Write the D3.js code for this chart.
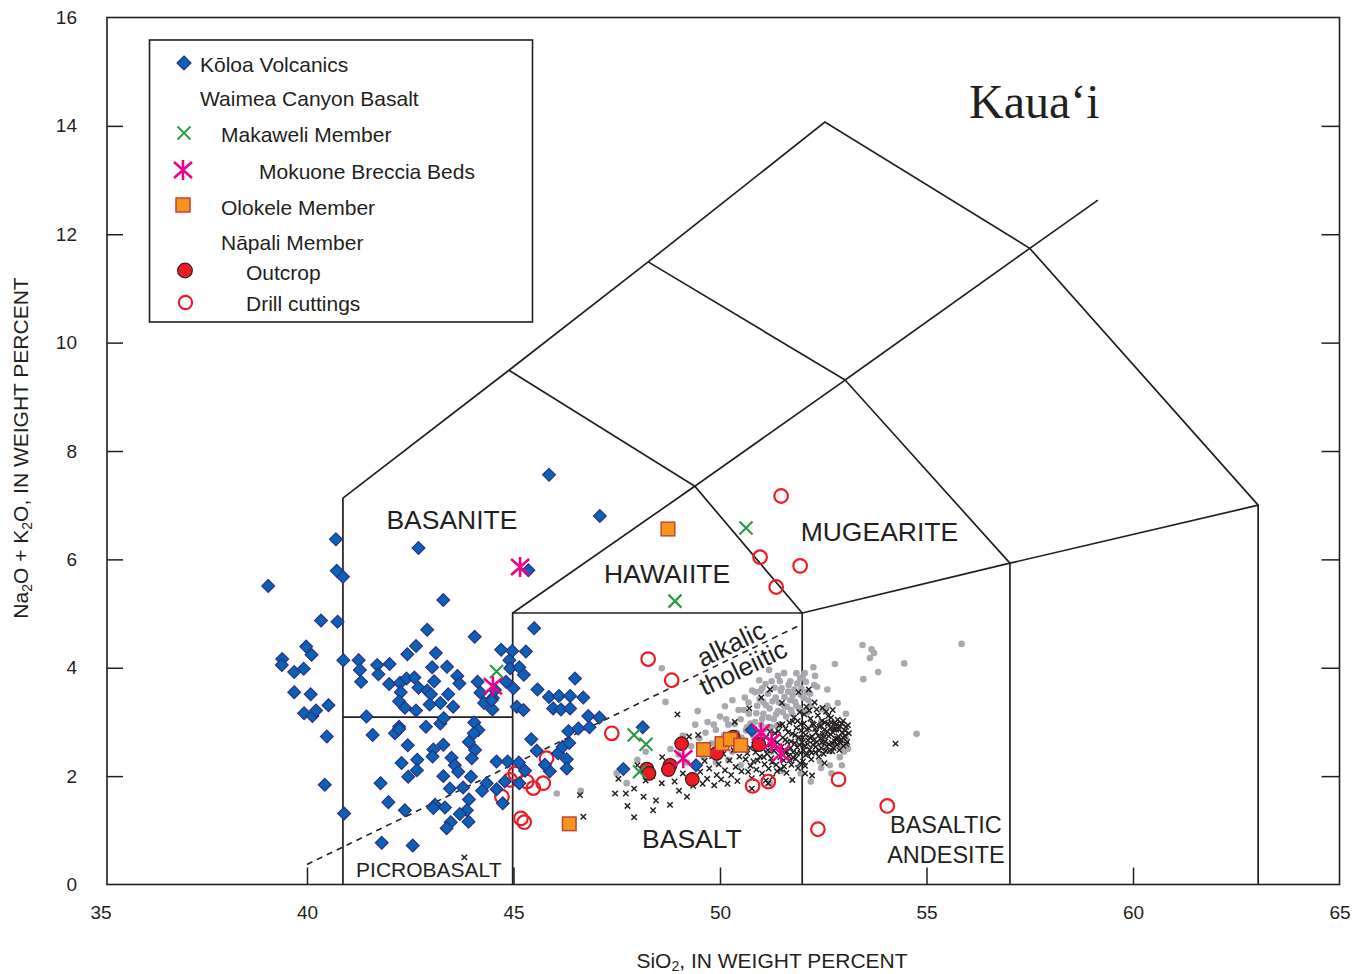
<!DOCTYPE html>
<html>
<head>
<meta charset="utf-8">
<script src="https://cdn.jsdelivr.net/npm/d3@7"></script>
<style>
  body { margin: 0; background: #fff; }
  svg text { font-family: "Liberation Sans", Arial, sans-serif; fill: #231f20; }
</style>
</head>
<body>
<svg id="chart" width="1364" height="974"></svg>
<script>
// ---- Data: SiO2 (wt %) vs Na2O + K2O (wt %) ----
const xTicks = [35, 40, 45, 50, 55, 60, 65];
const yTicks = [0, 2, 4, 6, 8, 10, 12, 14, 16];

// Kōloa Volcanics
const koloa = [
  [39.06,5.51],[40.34,4.87],[40.74,4.85],[40.88,4.14],[40.87,5.68],[40.72,5.79],[39.98,4.39],[40.11,4.24],
  [39.40,4.16],[39.39,4.05],[39.69,3.92],[39.92,3.98],[39.69,3.55],[40.09,3.51],[40.52,3.31],[39.93,3.16],
  [40.13,3.11],[40.22,3.21],[41.25,4.14],[41.28,3.96],[41.31,3.74],[41.70,4.05],[41.73,3.88],[42.00,4.07],
  [41.99,3.70],[42.25,3.72],[42.41,3.80],[42.27,3.55],[42.23,3.38],[42.37,3.26],[42.64,3.21],[42.43,4.25],
  [42.64,4.40],[42.91,4.70],[43.30,5.25],[43.12,4.27],[43.03,4.01],[43.39,4.02],[43.64,3.85],[43.69,3.71],
  [43.08,3.75],[42.60,3.82],[42.70,3.63],[42.91,3.58],[43.00,3.51],[43.42,3.51],[43.23,3.35],[42.97,3.32],
  [43.54,3.28],[44.06,4.57],[44.70,4.33],[44.13,3.74],[44.20,3.54],[44.29,3.35],[44.49,3.23],[41.44,3.10],
  [42.23,2.91],[42.88,2.91],[43.23,2.97],[43.31,3.07],[44.05,2.99],[44.50,3.44],
  [40.70,6.37],[42.70,6.21],[45.36,5.80],[45.86,7.56],[47.09,6.80],[45.50,4.73],
  [45.08,3.28],[45.24,3.22],[40.48,2.73],[41.59,2.76],[42.13,2.79],[42.23,2.87],[44.15,2.85],[44.04,2.79],
  [43.92,2.63],[42.44,2.57],[43.30,2.58],[43.06,2.49],[43.04,2.36],[44.07,2.48],[43.99,2.33],[43.50,2.34],
  [42.29,2.24],[42.67,2.30],[42.66,2.11],[43.58,2.20],[43.66,2.08],[43.97,1.99],[44.59,2.27],[44.86,2.27],
  [45.13,2.25],[45.43,2.68],[45.56,2.47],[46.08,2.42],[46.19,2.54],[46.35,2.61],[46.29,2.31],[46.29,2.14],
  [45.88,2.09],[46.33,2.83],[46.57,2.88],[46.84,2.90],[46.81,3.11],[47.08,3.08],[42.45,1.99],[41.78,1.87],
  [43.30,2.00],[43.46,1.77],[43.78,1.79],[44.35,1.87],[44.24,1.73],[44.79,1.90],[44.59,1.76],[45.14,1.87],
  [45.28,2.10],[41.97,1.52],[42.37,1.37],[43.10,1.47],[43.34,1.42],[43.06,1.41],[43.92,1.57],[43.87,1.37],
  [43.70,1.30],[43.91,1.16],[43.48,1.15],[43.38,1.04],[44.74,1.50],[40.90,1.31],[40.43,1.84],[41.81,0.77],
  [42.56,0.72],
  [44.97,4.31],[45.30,4.30],[44.90,4.14],[44.92,3.99],[45.14,4.01],[45.25,3.87],[46.49,3.80],[44.82,3.74],
  [45.00,3.62],[45.58,3.60],[45.86,3.46],[46.10,3.48],[46.37,3.48],[46.69,3.45],[45.96,3.25],[46.15,3.23],
  [46.37,3.25],[44.55,3.59],[44.47,3.40],[45.76,2.21],[48.13,2.90],[47.66,2.13],[49.42,2.20],[50.77,2.85]
];

// Waimea Canyon Basalt members
const makaweli = [[50.63,6.58],[48.91,5.23],[44.59,3.93],[47.92,2.76],[48.21,2.59],[48.05,2.08]];
const mokuone  = [[45.16,5.86],[44.50,3.66],[49.11,2.33],[50.99,2.80],[51.25,2.64],[51.48,2.42]];
const olokele  = [[48.74,6.56],[46.35,1.12],[49.60,2.49],[50.05,2.60],[50.25,2.68],[50.50,2.57]];
const napaliOutcrop = [[49.07,2.60],[48.23,2.13],[48.28,2.05],[48.79,2.20],[48.75,2.12],[49.33,1.94],
  [49.92,2.42],[50.32,2.72],[50.94,2.58]];
const napaliDrill = [[51.48,7.17],[50.97,6.04],[51.36,5.49],[51.94,5.88],[48.26,4.16],[48.83,3.77],
  [47.38,2.79],[50.79,1.82],[51.17,1.90],[52.87,1.94],[54.05,1.45],[52.37,1.02],[45.80,2.33],[45.72,1.87],
  [45.48,1.78],[45.32,1.90],[45.04,2.05],[44.92,1.93],[44.72,1.62],[45.18,1.22],[45.26,1.15]];

// Comparison analyses (grey dots)
const greyDots = [
  [48.59,3.99],[48.68,3.37],[49.46,3.20],[50.12,3.29],[47.74,1.87],[46.05,1.68],[46.63,1.73],[53.45,4.42],
  [53.67,4.34],[53.73,4.27],[53.63,4.18],[52.78,4.07],[52.26,4.01],[53.83,3.92],[53.47,3.79],[54.46,4.08],
  [55.85,4.44],[54.76,2.78],[52.28,3.68],[52.14,3.40],[52.50,3.23],[51.94,3.80],[52.00,3.83],[51.45,3.75],
  [50.95,3.77],[51.19,3.96],[50.98,3.57],[51.05,3.37],[51.49,3.62],[51.65,3.56],[52.66,2.20],[52.95,2.52],
  [52.42,2.27],[51.21,1.87],
  [49.30,2.55],[49.50,2.70],[49.60,2.35],[49.80,2.60],[49.90,2.85],[50.00,2.50],[50.10,2.75],[50.20,2.95],
  [50.30,2.45],[50.40,2.80],[50.50,3.05],[50.55,2.60],[50.65,2.90],[50.70,3.15],[50.80,2.75],[50.85,3.00],
  [50.90,3.30],[51.00,2.95],[51.05,3.15],[51.15,2.90],[51.20,3.25],[51.30,3.05],[51.35,3.45],[51.40,3.20],
  [51.45,2.95],[51.55,3.30],[51.60,3.10],[51.70,3.40],[51.75,3.15],[51.80,3.60],[51.85,3.30],[51.95,3.50],
  [52.00,3.20],[52.10,3.55],[52.20,3.30],[49.00,2.40],[48.80,2.50],[49.20,2.25],[50.30,3.40],[50.60,3.45],
  [50.00,3.10],[49.70,3.00],[52.35,3.65],[52.45,3.00],[52.60,3.30],[52.80,2.90],[53.00,2.45],[53.05,2.70],
  [52.90,2.35],[51.10,3.70],[51.40,3.85],[51.70,3.75],[50.50,2.20],[50.20,2.30],[49.90,2.25],[51.50,2.10],
  [52.20,1.90],[52.70,2.05],[48.00,2.30],[47.50,2.05],[48.20,2.45],[49.40,2.95],[50.85,3.55],[51.90,2.70],
  [52.50,2.60],[50.40,2.50],[49.10,2.75],[51.25,2.45],
  [50.52,2.71],[50.58,3.22],[50.63,2.84],[50.69,3.36],[50.74,2.97],[50.78,3.58],[50.83,2.88],[50.88,3.16],
  [50.93,2.79],[50.96,3.42],[51.02,3.06],[51.07,2.86],[51.11,3.31],[51.16,3.52],[51.18,3.08],[51.23,2.91],
  [51.27,3.38],[51.32,3.63],[51.36,3.14],[51.38,2.93],[51.43,3.36],[51.47,3.57],[51.52,3.18],[51.56,3.46],
  [51.62,3.28],[51.66,3.68],[51.72,3.22],[51.76,3.49],[51.82,3.37],[51.87,3.71],[51.91,3.25],[51.97,3.62],
  [52.03,3.44],[52.08,3.74],[52.12,3.18],[52.18,3.52],[50.25,2.62],[50.35,2.96],[50.45,2.68],[49.95,2.68],
  [49.75,2.45],[49.55,2.55],[49.85,2.95],[50.15,3.05],[50.45,3.22],[49.65,2.80],[51.02,3.62],[51.25,3.75],
  [51.55,3.90],[51.85,3.90],[52.05,3.90],[52.30,3.85],[52.60,3.60],[52.85,3.35],[53.05,3.15],[52.75,2.55],
  [52.95,2.20],[53.10,2.50],[51.95,2.05],[52.45,2.15]
];

// Comparison analyses (small black crosses)
const blackCrosses = [
  [47.54,1.95],[47.72,1.68],[47.92,1.77],[47.76,1.45],[47.92,1.24],[48.38,1.37],[48.59,1.87],[48.79,1.47],
  [49.01,1.73],[48.97,3.14],[49.25,2.73],[49.47,2.76],[46.61,1.65],[47.46,1.68],[46.69,1.25],[43.81,0.50],
  [48.15,1.62],[48.45,1.55],[48.20,1.92],[48.90,1.90],[49.20,1.62],[49.35,1.82],[49.10,2.05],[48.60,2.35],
  [48.00,2.20],[48.35,2.00],[50.71,3.25],[50.36,3.00],[51.21,3.60],
  [49.52,2.08],[49.58,1.86],[49.63,2.28],[49.69,1.95],[49.74,2.14],[49.81,2.37],[49.86,1.83],[49.92,2.02],
  [49.97,2.22],[50.03,1.94],[50.08,2.41],[50.12,2.11],[50.18,1.86],[50.23,2.29],[50.27,2.02],[50.33,2.48],
  [50.38,2.17],[50.42,1.91],[50.47,2.36],[50.52,2.09],[50.57,2.52],
  [50.62,2.31],[50.68,2.08],[50.73,2.52],[50.77,1.96],[50.81,2.27],[50.86,2.44],[50.88,2.12],[50.93,2.63],
  [50.97,2.36],[51.02,2.05],[51.04,2.51],[51.08,2.22],[51.12,2.72],[51.14,2.41],[51.18,2.14],[51.22,2.58],
  [51.24,2.33],[51.27,1.98],[51.31,2.47],[51.33,2.79],[51.36,2.21],[51.39,2.62],[51.42,2.38],[51.44,2.94],
  [51.47,2.13],[51.49,2.54],[51.52,2.71],[51.54,2.29],[51.57,2.46],[51.59,2.88],[51.61,2.06],[51.63,2.63],
  [51.66,2.37],[51.68,2.99],[51.71,2.52],[51.73,2.21],[51.75,2.78],[51.77,2.44],[51.79,3.08],[51.81,2.61],
  [51.83,2.32],[51.85,2.89],[51.87,2.53],[51.89,2.15],[51.91,2.71],[51.93,3.18],[51.95,2.43],[51.97,2.84],
  [51.99,2.62],[52.01,2.27],[52.03,2.97],[52.05,2.55],[52.07,2.76],[52.09,3.28],[52.11,2.41],[52.13,2.66],
  [52.15,2.88],[52.17,2.49],[52.19,3.06],[52.21,2.31],[52.23,2.73],[52.25,2.58],[52.27,2.95],[52.29,3.36],
  [52.31,2.44],[52.33,2.81],[52.35,2.63],[52.37,3.12],[52.39,2.36],[52.41,2.91],[52.43,2.69],[52.45,2.52],
  [52.47,3.02],[52.49,2.78],[52.51,2.41],[52.53,2.86],[52.55,2.64],[52.57,3.19],[52.59,2.55],[52.61,2.97],
  [52.63,2.74],[52.65,2.46],[52.67,2.89],[52.69,3.08],[52.71,2.61],[52.73,2.81],[52.75,2.52],[52.77,2.98],
  [52.79,2.69],[52.81,2.86],[52.83,2.58],[52.85,3.04],[52.87,2.73],[52.89,2.48],[52.91,2.92],[52.93,2.66],
  [52.96,2.81],[52.99,2.56],[53.02,2.74],[53.05,2.91],[53.08,2.63],[53.12,2.79],
  [50.66,2.42],[50.74,2.19],[50.83,2.58],[50.91,2.29],[50.99,2.67],[51.06,2.35],[51.11,1.92],[51.16,2.48],
  [51.21,2.82],[51.26,2.26],[51.29,2.67],[51.35,2.51],[51.38,2.09],[51.41,2.83],[51.46,2.35],[51.51,2.96],
  [51.55,2.18],[51.58,2.67],[51.62,2.45],[51.65,2.81],[51.69,2.29],[51.72,2.64],[51.76,3.01],[51.78,2.34],
  [51.82,2.76],[51.86,2.42],[51.88,3.02],[51.92,2.58],[51.94,2.24],[51.96,2.96],[52.00,2.71],[52.02,2.48],
  [52.04,3.14],[52.08,2.39],[52.10,2.86],[52.12,2.59],[52.16,3.21],[52.18,2.71],[52.22,2.43],[52.24,2.97],
  [52.26,2.66],[52.30,2.87],[52.32,2.54],[52.34,3.23],[52.38,2.74],[52.40,2.47],[52.44,2.93],[52.46,2.62],
  [52.48,3.26],[52.52,2.72],[52.54,2.99],[52.56,2.47],[52.60,2.82],[52.62,3.11],[52.64,2.59],[52.68,2.77],
  [52.70,2.99],[52.72,2.46],[52.76,2.86],[52.78,2.64],[52.82,2.96],[52.84,2.69],[52.88,2.86],[52.92,2.61],
  [52.95,2.97],[52.98,2.71],[53.03,2.84],[53.06,2.59],[53.10,2.94],
  [52.73,3.22],[52.53,2.24],[52.06,2.19],[52.06,2.05],[51.75,1.93],[51.17,1.87],[50.77,1.77],[52.23,2.01],
  [54.25,2.60],[52.98,3.02],[51.00,3.45],[51.50,3.35],[51.90,3.55],[52.15,3.60]
];

// TAS field boundaries
const fieldLines = [
  [[40.87,0],[40.87,7.13],[44.89,9.49],[48.26,11.49],[52.54,14.07],[57.50,11.74],[63.03,7.00],[63.03,0]],
  [[40.87,3.09],[44.98,3.09]],
  [[44.98,0],[44.98,5.01],[51.99,5.01],[51.99,0]],
  [[44.98,5.01],[49.39,7.35],[51.99,5.01]],
  [[44.89,9.49],[49.39,7.35],[53.03,9.31],[57.02,5.93],[57.02,0]],
  [[48.26,11.49],[53.03,9.31],[57.50,11.74],[59.15,12.63]],
  [[51.99,5.01],[57.02,5.93],[63.03,7.00]]
];
// Alkalic / tholeiitic divide
const divideLine = [[40.0,0.37],[52.0,4.81]];

const fieldLabels = [
  {text: "BASANITE",    x: 43.51, y: 6.56, size: 26.5},
  {text: "HAWAIITE",    x: 48.72, y: 5.56, size: 26.5},
  {text: "MUGEARITE",   x: 53.86, y: 6.34, size: 26.5},
  {text: "BASALT",      x: 49.32, y: 0.67, size: 26.5},
  {text: "PICROBASALT", x: 42.95, y: 0.14, size: 21},
  {text: "BASALTIC",    x: 55.47, y: 0.95, size: 23.5},
  {text: "ANDESITE",    x: 55.47, y: 0.40, size: 23.5}
];
const divideLabels = [
  {text: "alkalic",    x: 50.27, y: 4.44},
  {text: "tholeiitic", x: 50.56, y: 4.00}
];

// ---- Layout ----
const svg = d3.select("#chart");
const ink = "#231f20";
const x = d3.scaleLinear().domain([35, 65]).range([100.5, 1339.5]);
const y = d3.scaleLinear().domain([0, 16]).range([884.5, 17.5]);
const frame = {left: 107, right: x(65), top: y(16), bottom: y(0)};

// Axes with inward ticks
const gx = svg.append("g").attr("transform", `translate(0,${frame.bottom})`)
  .call(d3.axisBottom(x).tickValues(xTicks).tickSize(-17).tickPadding(21));
gx.selectAll(".tick line").filter(d => d === 35 || d === 65).remove();

const gy = svg.append("g").attr("transform", `translate(${frame.left},0)`)
  .call(d3.axisLeft(y).tickValues(yTicks).tickSize(-16).tickPadding(30));
gy.selectAll(".tick line").filter(d => d === 0 || d === 16).remove();

const gr = svg.append("g").attr("transform", `translate(${frame.right},0)`)
  .call(d3.axisRight(y).tickValues(yTicks).tickSize(-18).tickFormat(""));
gr.selectAll(".tick line").filter(d => d === 0 || d === 16).remove();

[gx, gy, gr].forEach(g => {
  g.select(".domain").remove();
  g.selectAll(".tick line").attr("stroke", ink).attr("stroke-width", 1.5);
  g.selectAll(".tick text").attr("font-size", 19).attr("fill", ink)
    .attr("font-family", '"Liberation Sans", Arial, sans-serif');
});

svg.append("rect")
  .attr("x", frame.left).attr("y", frame.top)
  .attr("width", frame.right - frame.left).attr("height", frame.bottom - frame.top)
  .attr("fill", "none").attr("stroke", ink).attr("stroke-width", 1.6);

// Axis titles
const xt = svg.append("text").attr("x", 772).attr("y", 968).attr("text-anchor", "middle").attr("font-size", 21);
xt.append("tspan").text("SiO");
xt.append("tspan").attr("font-size", 14).attr("dy", 3).text("2");
xt.append("tspan").attr("dy", -3).text(", IN WEIGHT PERCENT");

const yt = svg.append("text").attr("transform", "translate(28,448) rotate(-90)")
  .attr("text-anchor", "middle").attr("font-size", 21);
yt.append("tspan").text("Na");
yt.append("tspan").attr("font-size", 14).attr("dy", 4).text("2");
yt.append("tspan").attr("dy", -4).text("O + K");
yt.append("tspan").attr("font-size", 14).attr("dy", 4).text("2");
yt.append("tspan").attr("dy", -4).text("O, IN WEIGHT PERCENT");

// Field boundaries
const line = d3.line().x(d => x(d[0])).y(d => y(d[1]));
svg.append("g").selectAll("path").data(fieldLines).join("path")
  .attr("d", line).attr("fill", "none").attr("stroke", ink)
  .attr("stroke-width", 1.7).attr("stroke-linejoin", "miter");

svg.append("path").datum(divideLine).attr("d", line)
  .attr("fill", "none").attr("stroke", ink).attr("stroke-width", 1.6)
  .attr("stroke-dasharray", "6,5");

svg.append("g").selectAll("text").data(fieldLabels).join("text")
  .attr("x", d => x(d.x)).attr("y", d => y(d.y))
  .attr("text-anchor", "middle").attr("font-size", d => d.size).text(d => d.text);

const angle = -Math.atan2(y(divideLine[0][1]) - y(divideLine[1][1]), x(divideLine[1][0]) - x(divideLine[0][0])) * 180 / Math.PI;
svg.append("g").selectAll("text").data(divideLabels).join("text")
  .attr("transform", d => `translate(${x(d.x)},${y(d.y)}) rotate(${angle})`)
  .attr("text-anchor", "middle").attr("dominant-baseline", "central")
  .attr("font-size", 26).text(d => d.text);

// Symbol painters
const red = "#ed1c24", pink = "#ec008c", green = "#2e9a47", blue = "#0b61b5", navy = "#2a3183";
function diamond(g, cx, cy, r) {
  g.append("path").attr("d", `M${cx},${cy - r}L${cx + r},${cy}L${cx},${cy + r}L${cx - r},${cy}Z`)
    .attr("fill", blue).attr("stroke", navy).attr("stroke-width", 1.2);
}
function cross(g, cx, cy, r, color, w) {
  g.append("path").attr("d", `M${cx - r},${cy - r}L${cx + r},${cy + r}M${cx - r},${cy + r}L${cx + r},${cy - r}`)
    .attr("stroke", color).attr("stroke-width", w).attr("fill", "none");
}
function asterisk(g, cx, cy) {
  g.append("path").attr("d",
    `M${cx},${cy - 10}L${cx},${cy + 10}M${cx - 9},${cy - 8}L${cx + 9},${cy + 8}M${cx - 9},${cy + 8}L${cx + 9},${cy - 8}`)
    .attr("stroke", pink).attr("stroke-width", 2.6).attr("fill", "none");
}
function square(g, cx, cy, h) {
  g.append("rect").attr("x", cx - h).attr("y", cy - h).attr("width", 2 * h).attr("height", 2 * h)
    .attr("fill", "#f7941d").attr("stroke", "#c1443a").attr("stroke-width", 1.5);
}
function dotFilled(g, cx, cy, r) {
  g.append("circle").attr("cx", cx).attr("cy", cy).attr("r", r)
    .attr("fill", red).attr("stroke", "#3b1a1a").attr("stroke-width", 1.2);
}
function dotOpen(g, cx, cy, r) {
  g.append("circle").attr("cx", cx).attr("cy", cy).attr("r", r)
    .attr("fill", "none").attr("stroke", red).attr("stroke-width", 2.2);
}

// Data marks
const marks = svg.append("g");
const gGrey = marks.append("g");
greyDots.forEach(d => gGrey.append("circle").attr("cx", x(d[0])).attr("cy", y(d[1])).attr("r", 3.3).attr("fill", "#a7a9ac"));
const gBlack = marks.append("g");
blackCrosses.forEach(d => cross(gBlack, x(d[0]), y(d[1]), 2.7, ink, 1.45));
const gDrill = marks.append("g");
napaliDrill.forEach(d => dotOpen(gDrill, x(d[0]), y(d[1]), 6.8));
const gKoloa = marks.append("g");
koloa.forEach(d => diamond(gKoloa, x(d[0]), y(d[1]), 6.4));
const gOut = marks.append("g");
napaliOutcrop.forEach(d => dotFilled(gOut, x(d[0]), y(d[1]), 6.8));
const gOlo = marks.append("g");
olokele.forEach(d => square(gOlo, x(d[0]), y(d[1]), 6.8));
const gMak = marks.append("g");
makaweli.forEach(d => cross(gMak, x(d[0]), y(d[1]), 6.5, green, 2.2));
const gMok = marks.append("g");
mokuone.forEach(d => asterisk(gMok, x(d[0]), y(d[1])));

// Island name
svg.append("text").attr("x", 969).attr("y", 118)
  .style("font-family", '"Liberation Serif", "Times New Roman", serif')
  .attr("font-size", 48).text("Kaua\u2018i");

// Legend
const lg = svg.append("g");
lg.append("rect").attr("x", 149.5).attr("y", 40).attr("width", 383).attr("height", 282)
  .attr("fill", "#fff").attr("stroke", ink).attr("stroke-width", 1.6);
const legendRows = [
  {text: "Kōloa Volcanics",      tx: 200, ty: 64,  draw: g => diamond(g, 184, 63, 7)},
  {text: "Waimea Canyon Basalt", tx: 200, ty: 98,  draw: null},
  {text: "Makaweli Member",      tx: 221, ty: 134, draw: g => cross(g, 184, 133, 6.5, green, 2)},
  {text: "Mokuone Breccia Beds", tx: 259, ty: 171, draw: g => asterisk(g, 183, 170)},
  {text: "Olokele Member",       tx: 221, ty: 207, draw: g => square(g, 183, 205, 7)},
  {text: "Nāpali Member",        tx: 221, ty: 242, draw: null},
  {text: "Outcrop",              tx: 246, ty: 272, draw: g => dotFilled(g, 185, 270.5, 7.3)},
  {text: "Drill cuttings",       tx: 246, ty: 303, draw: g => dotOpen(g, 185.5, 302.5, 6.6)}
];
legendRows.forEach(r => {
  if (r.draw) r.draw(lg);
  lg.append("text").attr("x", r.tx).attr("y", r.ty).attr("dominant-baseline", "central")
    .attr("font-size", 21).text(r.text);
});
</script>
</body>
</html>
